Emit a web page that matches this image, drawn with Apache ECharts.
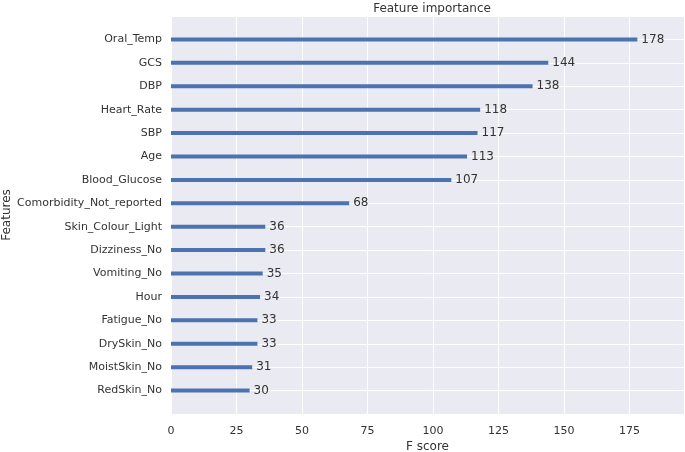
<!DOCTYPE html>
<html><head><meta charset="utf-8">
<script src="https://cdn.jsdelivr.net/npm/echarts@6/dist/echarts.min.js"></script>
<style>html,body{margin:0;padding:0;background:#fff}#c{width:685px;height:452px}</style>
</head><body><div id="c"></div>
<script>
// Top-to-bottom order as shown
const features = ["Oral_Temp","GCS","DBP","Heart_Rate","SBP","Age","Blood_Glucose","Comorbidity_Not_reported","Skin_Colour_Light","Dizziness_No","Vomiting_No","Hour","Fatigue_No","DrySkin_No","MoistSkin_No","RedSkin_No"];
const scores = [178,144,138,118,117,113,107,68,36,36,35,34,33,33,31,30];
const xTicks = [0,25,50,75,100,125,150,175];

const cats = [''].concat(features.slice().reverse()).concat(['']);
const vals = [null].concat(scores.slice().reverse()).concat([null]);
const xMax = Math.max(...scores) * 1.1;
const txt = '#333333';
const font = 'DejaVu Sans';

const chart = echarts.init(document.getElementById('c'));
chart.setOption({
  animation: false,
  backgroundColor: '#ffffff',
  title: {text: 'Feature importance', left: 427, top: -2, textAlign: 'center',
    textStyle: {fontFamily: font, fontSize: 12, fontWeight: 'normal', color: txt}},
  grid: {left: 171, right: 1, top: 16, bottom: 38, backgroundColor: '#EAEAF2', show: true, borderWidth: 0,
    containLabel: false, outerBoundsMode: 'none'},
  xAxis: {type: 'value', min: 0, max: xMax, interval: 25,
    name: 'F score', nameLocation: 'middle', nameGap: 27, nameMoveOverlap: false,
    nameTextStyle: {fontFamily: font, fontSize: 12, color: txt},
    axisLine: {show: false}, axisTick: {show: false},
    axisLabel: {fontFamily: font, fontSize: 11, color: txt, margin: 12,
      formatter: v => xTicks.includes(v) ? String(v) : ''},
    splitLine: {show: true, lineStyle: {color: '#ffffff', width: 1}}},
  yAxis: {type: 'category', data: cats, boundaryGap: false,
    name: 'Features', nameLocation: 'middle', nameGap: 158, nameRotate: 90, nameMoveOverlap: false,
    nameTextStyle: {fontFamily: font, fontSize: 12, color: txt},
    axisLine: {show: false}, axisTick: {show: false},
    axisLabel: {fontFamily: font, fontSize: 11, color: txt, margin: 9},
    splitLine: {show: true, lineStyle: {color: '#ffffff', width: 1}}},
  series: [{type: 'bar', data: vals, barWidth: 4, itemStyle: {color: '#4C72B0'},
    label: {show: true, position: 'right', distance: 4, fontFamily: font, fontSize: 12, color: txt,
      formatter: p => p.value == null ? '' : String(p.value)}}]
});
</script></body></html>
